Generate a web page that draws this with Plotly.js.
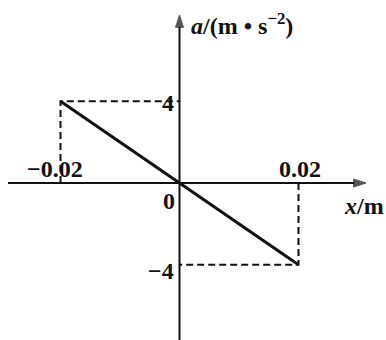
<!DOCTYPE html>
<html>
<head>
<meta charset="utf-8">
<script src="https://cdn.plot.ly/plotly-3.0.1.min.js"></script>
<style>
  html, body { margin: 0; padding: 0; background: #fff; }
  #chart { width: 386px; height: 340px; }
</style>
</head>
<body>
<div id="chart"></div>
<script>
// ---- data ----
const lineX = [-0.02, 0.02];
const lineY = [4, -4];
const xTickVals = [-0.02, 0.02];
const xTickText = ['\u22120.02', '0.02'];
const yTickVals = [4, -4];
const yTickText = ['4', '\u22124'];
const originLabel = '0';
const xTitle = '<i>x</i>/m';
const yTitle = '<i>a</i>/(m \u2022 s<sup>\u22122</sup>)';

// ---- layout geometry ----
const xRange = [-0.030168, 0.034706];
const yRange = [-7.687, 8.960];
const xAxisStart = -0.02882, xAxisEnd = 0.03134;
const yAxisStart = -7.687, yAxisEnd = 8.225;

const serif = 'Liberation Serif, Times New Roman, serif';
const black = '#111';
const fs = 24;
const fw = 'bold';

const traces = [];
// axes drawn as lines ending in arrowheads
traces.push({
  x: [xAxisStart, xAxisEnd], y: [0, 0], mode: 'lines+markers',
  line: { color: black, width: 2 },
  marker: { symbol: 'arrow', angleref: 'previous', size: [0, 13], color: black, line: { width: 1, color: black } },
  hoverinfo: 'skip', showlegend: false
});
traces.push({
  x: [0, 0], y: [yAxisStart, yAxisEnd], mode: 'lines+markers',
  line: { color: black, width: 2 },
  marker: { symbol: 'arrow', angleref: 'previous', size: [0, 13], color: black, line: { width: 1, color: black } },
  hoverinfo: 'skip', showlegend: false
});
// guide dashed lines from each endpoint to the axes
for (let i = 0; i < lineX.length; i++) {
  traces.push({
    x: [lineX[i], lineX[i], 0],
    y: [0, lineY[i], lineY[i]],
    mode: 'lines',
    line: { color: black, width: 2, dash: '7px,4px' },
    hoverinfo: 'skip', showlegend: false
  });
}
// main line
traces.push({
  x: lineX, y: lineY, mode: 'lines',
  line: { color: black, width: 3 },
  hoverinfo: 'skip', showlegend: false
});

const annotations = [];
// x tick labels (above the axis)
xTickVals.forEach((v, i) => {
  annotations.push({
    x: v, y: 0, xref: 'x', yref: 'y', text: xTickText[i], showarrow: false,
    xanchor: 'center', yanchor: 'bottom', yshift: -1, xshift: v < 0 ? -6 : 1,
    font: { family: serif, size: fs, color: black, weight: fw }
  });
});
// y tick labels (left of axis)
yTickVals.forEach((v, i) => {
  annotations.push({
    x: 0, y: v, xref: 'x', yref: 'y', text: yTickText[i], showarrow: false,
    xanchor: 'right', yanchor: 'middle', xshift: -4, yshift: v > 0 ? -2 : -6,
    font: { family: serif, size: fs, color: black, weight: fw }
  });
});
// origin label
annotations.push({
  x: 0, y: 0, xref: 'x', yref: 'y', text: originLabel, showarrow: false,
  xanchor: 'right', yanchor: 'top', xshift: -3, yshift: -3,
  font: { family: serif, size: fs, color: black, weight: fw }
});
// axis titles
annotations.push({
  x: xAxisEnd, y: 0, xref: 'x', yref: 'y', text: xTitle, showarrow: false,
  xanchor: 'right', yanchor: 'top', xshift: 20, yshift: -8,
  font: { family: serif, size: fs, color: black, weight: fw }
});
annotations.push({
  x: 0, y: yAxisEnd, xref: 'x', yref: 'y', text: yTitle, showarrow: false,
  xanchor: 'left', yanchor: 'top', xshift: 9, yshift: 8,
  font: { family: serif, size: fs, color: black, weight: fw }
});

const layout = {
  width: 386, height: 340,
  margin: { l: 0, r: 0, t: 0, b: 0, pad: 0 },
  paper_bgcolor: '#fff', plot_bgcolor: '#fff',
  xaxis: { range: xRange, visible: false, fixedrange: true },
  yaxis: { range: yRange, visible: false, fixedrange: true },
  showlegend: false,
  annotations: annotations
};

Plotly.newPlot('chart', traces, layout, { staticPlot: true, displayModeBar: false });
</script>
</body>
</html>
